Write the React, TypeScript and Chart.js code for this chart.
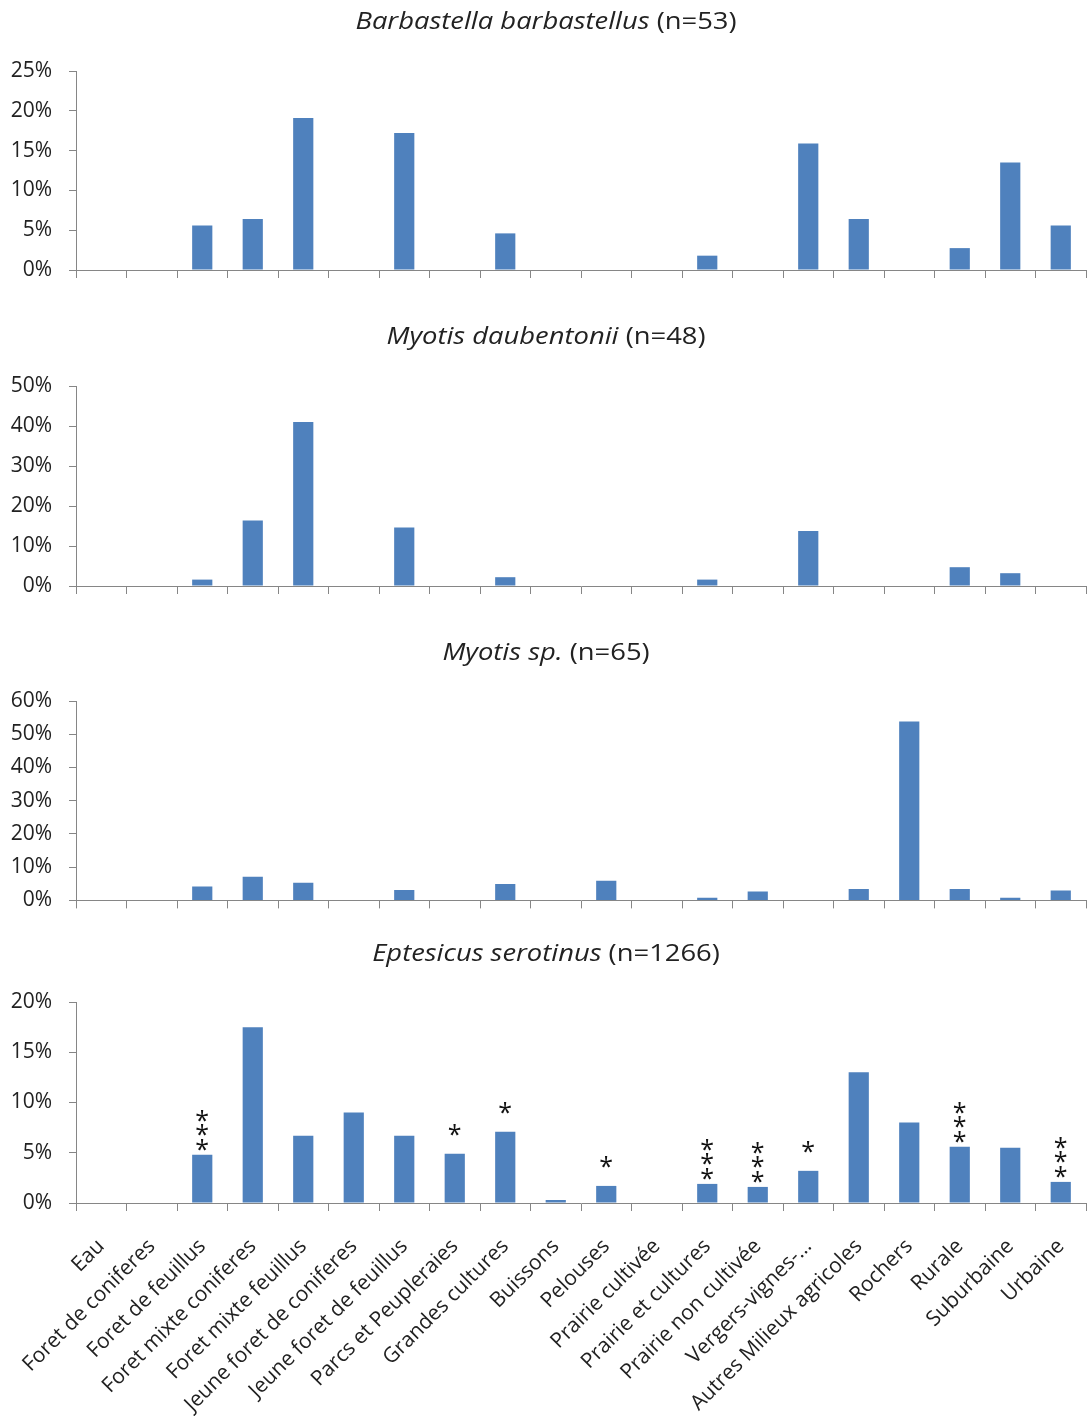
import React, { useEffect, useRef } from 'react';
import { Chart, registerables } from 'chart.js';

Chart.register(...registerables);

// Habitat categories along the x axis
const habitats = [
  'Eau',
  'Foret de coniferes',
  'Foret de feuillus',
  'Foret mixte coniferes',
  'Foret mixte feuillus',
  'Jeune foret de coniferes',
  'Jeune foret de feuillus',
  'Parcs et Peupleraies',
  'Grandes cultures',
  'Buissons',
  'Pelouses',
  'Prairie cultivée',
  'Prairie et cultures',
  'Prairie non cultivée',
  'Vergers-vignes-…',
  'Autres Milieux agricoles',
  'Rochers',
  'Rurale',
  'Suburbaine',
  'Urbaine',
];

// Percentage of contacts per habitat, one array per species
const barbastella = [0, 0, 5.6, 6.4, 19.1, 0, 17.2, 0, 4.6, 0, 0, 0, 1.8, 0, 15.9, 6.4, 0, 2.75, 13.5, 5.6];
const daubentonii = [0, 0, 1.6, 16.4, 41.0, 0, 14.6, 0, 2.2, 0, 0, 0, 1.6, 0, 13.75, 0, 0, 4.7, 3.2, 0];
const myotisSp = [0, 0, 4.2, 7.1, 5.3, 0, 3.1, 0, 4.9, 0, 5.9, 0, 0.8, 2.7, 0, 3.4, 53.8, 3.4, 0.8, 3.0];
const eptesicus = [0, 0, 4.8, 17.5, 6.7, 9.0, 6.7, 4.9, 7.1, 0.3, 1.7, 0, 1.9, 1.6, 3.2, 13.0, 8.0, 5.6, 5.5, 2.1];

// Significance marks for Eptesicus serotinus
const eptesicusSignif = ['', '', '***', '', '', '', '', '*', '*', '', '*', '', '***', '***', '*', '', '', '***', '', '***'];

// Panel titles: species name (italic) and sample size
const speciesNames = ['Barbastella barbastellus', 'Myotis daubentonii', 'Myotis sp.', 'Eptesicus serotinus'];
const sampleSizes = ['(n=53)', '(n=48)', '(n=65)', '(n=1266)'];

// Y axis ranges (max, step)
const yMax = [25, 50, 60, 20];
const yStep = [5, 10, 10, 5];

const seriesList = [barbastella, daubentonii, myotisSp, eptesicus];

const BAR_COLOR = '#4F81BD';
const AXIS_COLOR = '#868686';
const TEXT_COLOR = '#222222';
const FONT_FAMILY = '"Open Sans", "Liberation Sans", sans-serif';
const WIDTH = 1087;

// Layout of each panel canvas: top, height, top padding above the plot, x-axis band height, title centre line
const panelLayout = [
  { top: 0, height: 315, padTop: 71, xBand: 45, titleY: 22 },
  { top: 315, height: 315, padTop: 71, xBand: 44, titleY: 22 },
  { top: 630, height: 300, padTop: 71, xBand: 28, titleY: 23 },
  { top: 930, height: 492, padTop: 72, xBand: 219, titleY: 24 },
];

function titlePlugin(name: string, n: string, y: number) {
  return {
    id: 'panelTitle',
    afterDraw(chart: any) {
      const ctx = chart.ctx;
      ctx.save();
      const italic = `italic 23px ${FONT_FAMILY}`;
      const normal = `23px ${FONT_FAMILY}`;
      const stretch = 1.19;
      ctx.font = italic;
      const w1 = ctx.measureText(name + ' ').width;
      ctx.font = normal;
      const w2 = ctx.measureText(n).width;
      const cx = 546;
      const total = (w1 + w2) * stretch;
      ctx.translate(cx - total / 2, y);
      ctx.scale(stretch, 1);
      ctx.fillStyle = TEXT_COLOR;
      ctx.textBaseline = 'middle';
      ctx.textAlign = 'left';
      ctx.font = italic;
      ctx.fillText(name + ' ', 0, 0);
      ctx.font = normal;
      ctx.fillText(n, w1, 0);
      ctx.restore();
    },
  };
}

function starsPlugin(marks: string[]) {
  return {
    id: 'signifStars',
    afterDatasetsDraw(chart: any) {
      const ctx = chart.ctx;
      const meta = chart.getDatasetMeta(0);
      ctx.save();
      ctx.font = `25px ${FONT_FAMILY}`;
      ctx.fillStyle = '#111';
      ctx.textAlign = 'center';
      ctx.textBaseline = 'alphabetic';
      const m = ctx.measureText('*');
      const glyphMid = (m.actualBoundingBoxAscent - m.actualBoundingBoxDescent) / 2;
      marks.forEach((mark, i) => {
        if (!mark) return;
        const bar = meta.data[i];
        if (!bar) return;
        const count = mark.length;
        const lift = count === 1 ? 24 : 10;
        const spacing = 14.5;
        for (let k = 0; k < count; k++) {
          const cy = bar.y - lift - k * spacing;
          ctx.fillText('*', bar.x, cy + glyphMid);
        }
      });
      ctx.restore();
    },
  };
}

function Panel({ index }: { index: number }) {
  const ref = useRef<HTMLCanvasElement | null>(null);
  const lay = panelLayout[index];
  const isLast = index === panelLayout.length - 1;

  useEffect(() => {
    if (!ref.current) return;
    const plugins: any[] = [titlePlugin(speciesNames[index], sampleSizes[index], lay.titleY)];
    if (isLast) plugins.push(starsPlugin(eptesicusSignif));

    const chart = new Chart(ref.current, {
      type: 'bar',
      data: {
        labels: habitats,
        datasets: [
          {
            data: seriesList[index],
            backgroundColor: BAR_COLOR,
            borderWidth: 0,
            categoryPercentage: 1,
            barPercentage: 0.4,
          },
        ],
      },
      options: {
        animation: false,
        responsive: false,
        maintainAspectRatio: false,
        devicePixelRatio: 1,
        layout: { padding: { top: lay.padTop, left: 0, right: 1, bottom: 0 } },
        plugins: {
          legend: { display: false },
          tooltip: { enabled: false },
          title: { display: false },
        },
        scales: {
          x: {
            offset: true,
            grid: {
              display: true,
              offset: true,
              drawOnChartArea: false,
              drawTicks: true,
              tickLength: 8,
              color: AXIS_COLOR,
              lineWidth: 1,
            },
            border: { display: true, color: AXIS_COLOR, width: 1 },
            ticks: {
              display: isLast,
              autoSkip: false,
              maxRotation: 45,
              minRotation: 45,
              padding: 23,
              color: TEXT_COLOR,
              font: { family: FONT_FAMILY, size: 21 },
            },
            afterFit: (scale: any) => {
              scale.height = lay.xBand;
              // keep the plot spanning the full width regardless of label overhang
              scale.paddingLeft = 0;
              scale.paddingRight = 0;
            },
          },
          y: {
            min: 0,
            max: yMax[index],
            ticks: {
              stepSize: yStep[index],
              padding: 17,
              color: TEXT_COLOR,
              font: { family: FONT_FAMILY, size: 21 },
              callback: (v: any) => `${v}%`,
            },
            grid: {
              display: true,
              drawOnChartArea: false,
              drawTicks: true,
              tickLength: 7,
              color: AXIS_COLOR,
            },
            border: { display: true, color: AXIS_COLOR, width: 1 },
            afterFit: (scale: any) => {
              scale.width = 76;
            },
          },
        },
      },
      plugins,
    });
    return () => chart.destroy();
  }, [index]);

  return (
    <canvas
      ref={ref}
      width={WIDTH}
      height={lay.height}
      style={{ position: 'absolute', left: 0, top: lay.top, width: WIDTH, height: lay.height }}
    />
  );
}

export default function App() {
  return (
    <div style={{ position: 'absolute', left: 0, top: 0, width: WIDTH, height: 1422, background: '#fff' }}>
      {panelLayout.map((_, i) => (
        <Panel key={i} index={i} />
      ))}
    </div>
  );
}
